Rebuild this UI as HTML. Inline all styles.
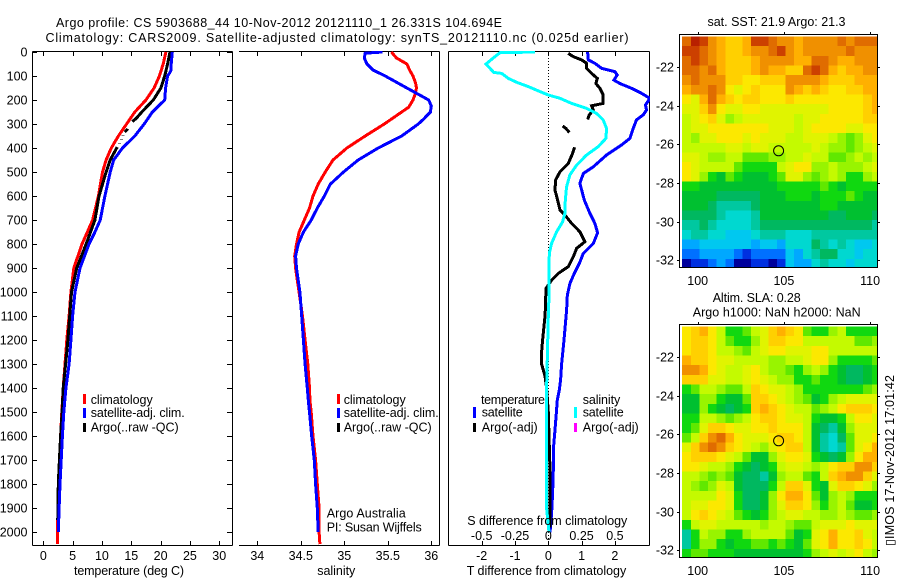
<!DOCTYPE html>
<html lang="en">
<head>
<meta charset="utf-8">
<title>Argo profile comparison</title>
<style>
html,body{margin:0;padding:0;background:#fff;}
svg{display:block;font-family:"Liberation Sans",Arial,sans-serif;font-size:12.5px;fill:#000;}
text{fill:#000;}
</style>
</head>
<body>
<svg id="figure" width="900" height="580" viewBox="0 0 900 580" xmlns="http://www.w3.org/2000/svg">
<defs>
<clipPath id="clip-p1"><rect x="32" y="51" width="201" height="495"/></clipPath>
<clipPath id="clip-p2"><rect x="239" y="51" width="201" height="495"/></clipPath>
<clipPath id="clip-p3"><rect x="448" y="51" width="202" height="495"/></clipPath>
<clipPath id="clip-m1"><rect x="682" y="36" width="195" height="231"/></clipPath>
<clipPath id="clip-m2"><rect x="682" y="326" width="195" height="231"/></clipPath>
</defs>

<text x="56" y="27" textLength="446">Argo profile: CS 5903688_44 10-Nov-2012 20121110_1 26.331S 104.694E</text>
<text x="45.5" y="42" textLength="583">Climatology: CARS2009. Satellite-adjusted climatology: synTS_20121110.nc (0.025d earlier)</text>

<g id="panel-temperature"></g>
<g id="panel-salinity"></g>
<g id="panel-difference"></g>
<g id="map-sst"></g>
<g id="map-sla"></g>

<text x="74" y="575" textLength="110">temperature (deg C)</text>
<text x="317.3" y="575" textLength="38">salinity</text>
<text x="466.7" y="575" textLength="159.5">T difference from climatology</text>
<text x="467.3" y="525" textLength="160">S difference from climatology</text>

<g>
<rect x="83" y="394" width="3" height="10" fill="#ff0000"/>
<text x="90.7" y="404" textLength="62">climatology</text>
<rect x="83" y="408" width="3" height="10" fill="#0000ff"/>
<text x="90.7" y="417" textLength="94">satellite-adj. clim.</text>
<rect x="83" y="423" width="3" height="9" fill="#000"/>
<text x="90.7" y="431.5" textLength="88">Argo(..raw -QC)</text>
</g>
<g>
<rect x="337" y="394" width="3" height="10" fill="#ff0000"/>
<text x="343.7" y="404" textLength="62">climatology</text>
<rect x="337" y="408" width="3" height="10" fill="#0000ff"/>
<text x="343.7" y="417" textLength="95">satellite-adj. clim.</text>
<rect x="337" y="423" width="3" height="9" fill="#000"/>
<text x="343.7" y="431.5" textLength="88">Argo(..raw -QC)</text>
</g>
<text x="326.7" y="517.7" textLength="79">Argo Australia</text>
<text x="326.7" y="531.7" textLength="95">PI: Susan Wijffels</text>

<g>
<text x="481" y="404" textLength="64">temperature</text>
<rect x="473" y="407" width="3" height="11" fill="#0000ff"/>
<text x="481.7" y="416.7" textLength="41">satellite</text>
<rect x="473" y="423" width="3" height="9" fill="#000"/>
<text x="481.7" y="431.5" textLength="56">Argo(-adj)</text>
<text x="582.7" y="404" textLength="37.5">salinity</text>
<rect x="574" y="407" width="3" height="11" fill="#00ffff"/>
<text x="582.7" y="416.7" textLength="41">satellite</text>
<rect x="574" y="423" width="3" height="9" fill="#ff00ff"/>
<text x="582.7" y="431.5" textLength="56">Argo(-adj)</text>
</g>

<text x="707.5" y="26" textLength="138">sat. SST: 21.9 Argo: 21.3</text>
<text x="712.7" y="302" textLength="88">Altim. SLA: 0.28</text>
<text x="692.7" y="316.5" textLength="168">Argo h1000: NaN h2000: NaN</text>
<text transform="translate(894,546) rotate(-90)" x="0" y="0" textLength="171">&#9647;IMOS 17-Nov-2012 17:01:42</text>

<script>
// ---------- profile data ----------
const yTickValues = [0,100,200,300,400,500,600,700,800,900,1000,1100,1200,1300,1400,1500,1600,1700,1800,1900,2000];
const tempTickValues = [0,5,10,15,20,25,30];
const salTickValues = [34,34.5,35,35.5,36];
const salTickLabels = ['34','34.5','35','35.5','36'];
const diffTickValues = [-2,-1,0,1,2];
const sDiffTickLabels = ['-0.5','-0.25','0','0.25','0.5'];

const tempDepths = [0,50,100,150,200,250,300,350,400,450,500,600,700,800,900,1000,1100,1200,1300,1400,1500,1600,1700,1800,1900,2000,2050];
const tempClim = [20.9,20.45,19.8,18.9,17.5,15.6,14.2,12.8,11.6,10.7,10.1,9.4,8.4,6.6,5.2,4.7,4.4,4.0,3.7,3.4,3.15,2.95,2.8,2.6,2.5,2.4,2.4];
const tempSatDepths = [0,50,75,85,100,150,200,250,300,350,400,450,500,600,700,750,800,900,1000,1100,1200,1300,1400,1500,1600,1700,1800,1900,2000];
const tempSat = [22,21.8,21.8,21.6,21.2,20.85,20.7,18.6,17.2,15.6,13.5,12.0,11.4,10.5,9.7,8.8,7.8,6.25,5.4,5.0,4.7,4.4,3.85,3.5,3.25,3.05,2.85,2.7,2.55];
const tempArgoDepths = [0,50,100,150,200,250,275,290,null,320,333,null,347,349,null,365,367,null,382,384,null,396,450,500,600,700,800,900,1000,1100,1200,1300,1400,1500,1600,1700,1800,1900,1950];
const tempArgo = [21.6,21.2,20.7,20.05,18.75,16.8,15.9,15.2,null,14.4,13.9,null,13.6,13.6,null,13.3,13.3,null,13.0,13.0,null,12.6,11.4,10.7,9.5,8.8,7.3,5.7,4.8,4.5,4.2,3.8,3.4,3.2,2.95,2.75,2.55,2.5,2.45];

const salClimDepths = [0,25,50,75,100,130,150,180,200,230,250,300,350,400,450,500,550,600,650,700,750,800,850,900,950,1000,1100,1200,1300,1400,1450,1500,1600,1700,1800,1900,2000,2050];
const salClim = [35.54,35.6,35.72,35.75,35.79,35.82,35.83,35.81,35.79,35.74,35.66,35.46,35.24,35.03,34.87,34.78,34.7,34.64,34.6,34.54,34.48,34.45,34.43,34.44,34.46,34.48,34.52,34.55,34.58,34.6,34.605,34.62,34.64,34.67,34.69,34.71,34.71,34.72];
const salSatDepths = [0,5,25,50,75,100,130,150,180,200,225,250,280,300,350,400,450,500,550,600,650,700,750,800,850,900,1000,1100,1200,1300,1400,1450,1500,1600,1700,1800,1900,2000];
const salSat = [35.44,35.24,35.23,35.26,35.33,35.47,35.62,35.72,35.87,35.97,36.0,35.99,35.91,35.85,35.66,35.39,35.16,34.99,34.84,34.77,34.69,34.62,34.53,34.47,34.44,34.45,34.49,34.51,34.53,34.55,34.575,34.586,34.6,34.625,34.655,34.67,34.69,34.7];

const tDiffSatDepths = [0,33,47,68,82,96,117,131,151,172,193,221,242,262,283,318,360,387,429,478,506,547,617,672,714,753,797,839,881,922,964,1014,1075,1200,1300,1366,1408,1450,1505,1574,1657,1740,1837,1920,1975,2000];
const tDiffSat = [1.18,1.2,1.4,1.6,2.0,2.07,1.97,2.15,2.5,2.8,3.05,2.92,2.95,2.85,2.65,2.55,2.45,2.2,1.75,1.35,1.05,0.95,1.08,1.25,1.4,1.48,1.35,1.05,0.93,0.78,0.65,0.57,0.55,0.47,0.4,0.37,0.33,0.27,0.24,0.2,0.15,0.15,0.13,0.1,0.07,0.05];
const tDiffArgoDepths = [6,19,33,47,68,89,110,131,151,179,214,224,242,262,281,null,308,318,335,null,397,422,464,499,533,575,617,658,679,714,749,790,818,853,894,922,950,985,1075,1100,1200,1250,1300,1350,1400,1500,1600,1740,1900,1980];
const tDiffArgo = [0.6,0.75,1.0,1.15,1.15,1.3,1.47,1.43,1.55,1.65,1.65,1.3,1.35,1.23,1.18,null,0.43,0.53,0.63,null,0.79,0.73,0.6,0.35,0.22,0.2,0.28,0.35,0.5,0.7,0.95,1.1,0.85,0.75,0.6,0.3,0.1,-0.07,-0.09,-0.1,-0.17,-0.2,-0.2,-0.1,-0.05,0,0.02,0.05,0.05,0.05];
const sDiffSatDepths = [0,3,19,50,68,85,89,110,126,144,165,179,193,214,235,256,283,318,360,394,429,471,512,561,617,672,707,749,797,839,922,1014,1100,1400,1900,1970,2000];
const sDiffSat = [-0.1,-0.3625,-0.4,-0.4675,-0.4375,-0.41,-0.35,-0.3,-0.2375,-0.15,-0.0625,0,0.0875,0.175,0.2875,0.3625,0.4125,0.4375,0.4325,0.375,0.2875,0.2125,0.1625,0.1375,0.1275,0.125,0.1075,0.0625,0.025,0.0075,0.005,0.005,0,-0.0125,-0.0125,0,0.005];

// ---------- map data (colour level per 0.5 degree cell, north to south) ----------
const mapLonTicks = [100,105,110];
const mapLatTicks = [22,24,26,28,30,32];
const argoLon = [104.694];
const argoLat = [26.331];
const sstLevels = [
[18,20,19,17,16,15,15,16,19,19,18,17,17,16,17,17,17,17,18,17,18,18,18],
[19,19,18,17,16,15,15,16,17,17,18,19,17,16,17,17,17,17,17,18,17,17,17],
[18,19,18,17,16,15,15,15,16,17,17,17,17,16,16,18,18,17,16,16,17,17,17],
[18,18,17,18,16,15,15,15,16,17,16,16,15,15,18,19,18,16,15,16,16,17,17],
[17,18,17,17,17,15,15,14,14,15,15,15,17,17,17,17,16,15,15,15,16,16,16],
[16,17,17,18,17,14,13,14,15,14,14,14,17,16,15,16,15,14,14,15,15,16,16],
[14,13,16,18,16,15,14,15,15,14,14,14,15,14,14,14,14,14,14,14,14,15,16],
[13,13,15,17,14,13,13,14,14,13,13,13,13,13,13,13,13,14,14,14,14,15,16],
[12,13,14,15,13,11,12,13,13,13,13,13,13,12,13,13,14,14,14,14,14,15,15],
[12,13,13,14,14,14,14,14,14,14,13,13,13,12,13,14,14,14,14,13,13,14,14],
[12,11,13,13,14,14,14,13,14,13,13,13,12,12,13,13,13,12,11,10,11,13,14],
[12,12,12,12,12,13,13,12,13,13,12,12,12,12,12,13,12,11,11,10,11,12,13],
[13,13,12,11,11,12,12,10,10,10,11,11,12,12,13,12,12,10,10,11,12,11,12],
[14,13,12,12,12,12,10,9,9,9,9,12,13,14,14,11,11,12,11,11,11,12,13],
[14,13,11,9,8,10,9,8,8,8,9,10,13,13,11,10,11,12,11,9,9,11,12],
[9,9,8,8,8,8,8,8,8,8,8,9,9,9,9,9,10,9,8,9,9,9,9],
[8,8,8,8,7,7,7,7,7,8,8,8,9,9,9,8,9,9,9,10,9,8,8],
[8,8,8,7,6,6,6,6,7,8,8,8,8,8,8,8,9,9,8,8,8,8,8],
[7,7,7,7,6,5,5,5,6,8,8,8,8,8,8,8,8,7,7,8,8,8,7],
[6,6,7,6,5,5,5,5,6,7,7,7,7,7,7,7,7,7,7,7,7,7,6],
[5,6,6,5,5,4,4,4,5,6,6,6,5,5,5,6,6,6,6,6,6,6,6],
[3,3,4,4,4,4,4,4,3,4,4,3,5,5,5,7,6,5,6,5,4,4,5],
[2,2,3,3,3,3,2,1,2,2,2,2,4,3,5,6,7,7,5,5,4,5,5],
[0,1,1,2,3,2,0,0,1,1,0,1,4,3,3,5,6,5,5,4,5,5,5]
];
const slaLevels = [
[14,15,16,14,12,9,9,10,12,13,15,16,15,14,10,9,9,11,12,9,9,9,9],
[14,15,15,14,12,10,9,9,11,13,15,15,14,14,12,12,12,12,12,12,10,10,11],
[14,15,15,14,12,12,11,10,12,13,14,14,13,13,13,14,14,12,12,12,12,12,12],
[16,15,15,14,13,13,12,12,12,12,11,11,12,12,13,14,14,11,9,9,9,9,10],
[17,17,16,14,13,12,12,13,14,12,11,11,10,9,11,12,11,9,8,7,7,8,9],
[15,15,15,13,13,12,12,13,14,13,12,11,11,9,9,10,9,9,8,7,7,8,9],
[9,10,12,12,11,10,10,12,15,14,13,13,12,11,9,9,9,9,9,9,9,10,11],
[8,8,11,11,9,8,8,10,15,15,14,13,12,11,10,8,9,11,12,13,13,13,13],
[8,8,11,9,8,7,8,9,15,16,15,14,13,12,12,10,11,12,14,15,15,15,14],
[9,9,12,12,11,10,11,12,14,15,15,14,13,13,12,9,8,8,9,12,14,14,13],
[9,10,13,15,15,14,13,13,14,14,15,14,14,14,12,8,7,6,8,11,13,13,13],
[10,12,15,17,18,16,14,13,13,13,14,15,15,14,12,8,6,5,7,10,13,13,14],
[13,15,17,18,17,15,14,13,12,11,13,14,15,15,12,8,6,5,6,10,13,14,16],
[14,15,15,15,14,13,12,10,8,8,11,13,14,14,13,9,8,7,8,11,14,16,16],
[14,14,13,12,12,11,9,8,7,8,9,12,13,13,12,11,12,14,15,15,17,17,15],
[12,12,11,10,11,10,8,7,7,6,8,11,12,12,10,9,12,15,16,17,17,15,13],
[12,11,10,11,13,12,8,7,7,7,9,12,15,15,13,9,8,13,15,15,14,13,11],
[12,12,12,12,14,13,9,7,7,8,11,14,16,16,14,10,8,11,12,11,9,9,9],
[12,13,13,14,14,13,9,7,7,8,11,13,15,15,14,11,9,11,12,10,8,8,9],
[12,14,15,14,13,12,10,9,8,9,11,12,13,13,12,12,11,11,12,11,10,10,11],
[9,12,13,13,12,12,12,12,12,11,12,12,11,10,10,12,13,13,13,14,13,13,13],
[6,9,12,11,11,9,9,11,12,12,12,12,10,8,9,13,14,16,14,14,15,13,12],
[6,9,11,11,9,8,9,9,10,10,9,10,9,8,10,13,14,16,14,14,15,14,12],
[9,10,10,9,9,9,8,8,8,8,8,8,8,8,9,11,12,13,12,13,14,12,11]
];

// ---------- scales ----------
const SVGNS = 'http://www.w3.org/2000/svg';
const colourRamp = ['#00009c','#0030e0','#0070ff','#00a8ff','#00c8f0','#00d8d0','#00c8a0','#00b860','#00c030','#10d810','#60e800','#98f400','#c4fa00','#e0f400','#fce800','#ffd000','#ffb000','#f09000','#e06c00','#cc4000','#b82000'];
function depthY(d){ return 52 + d * 0.2401; }
function tempX(t){ return 43.3 + t * 5.865; }
function salX(s){ return 257.3 + (s - 34) * 87; }
function tDiffX(t){ return 548.3 + t * 33.3; }
function sDiffX(s){ return 548.3 + s * 133.2; }
function lonX(lon){ return 697.7 + (lon - 100) * 17.24; }
function latY(lat, top){ return top + 33 + (lat - 22) * 19.34; }

function make(tag, parent){
  const el = document.createElementNS(SVGNS, tag);
  parent.appendChild(el);
  return el;
}
function drawLine(parent, x1, y1, x2, y2, name){
  const el = make('line', parent);
  el.setAttribute('x1', x1);
  el.setAttribute('y1', y1);
  el.setAttribute('x2', x2);
  el.setAttribute('y2', y2);
  el.setAttribute('stroke', '#000');
  el.setAttribute('shape-rendering', 'crispEdges');
  
  
  return el;
}
function drawText(parent, str, x, y, anchor, name){
  const el = make('text', parent);
  el.textContent = str;
  el.setAttribute('x', x);
  el.setAttribute('y', y);
  el.setAttribute('text-anchor', anchor);
  
  
  return el;
}
function drawProfile(parent, depths, values, xFn, colour, clip, name){
  let d = '';
  let pen = false;
  for (let i = 0; i < values.length; i++) {
    if (values[i] === null || depths[i] === null) { pen = false; continue; }
    d += (pen ? 'L' : 'M') + xFn(values[i]).toFixed(1) + ' ' + depthY(depths[i]).toFixed(1);
    pen = true;
  }
  const el = make('path', parent);
  el.setAttribute('d', d);
  el.setAttribute('fill', 'none');
  el.setAttribute('stroke', colour);
  el.setAttribute('stroke-width', '3');
  el.setAttribute('shape-rendering', 'crispEdges');
  el.setAttribute('clip-path', 'url(#' + clip + ')');
  
  
}
function drawXTicks(parent, values, xFn){
  values.forEach(function(v){
    const px = Math.round(xFn(v)) + 0.5;
    drawLine(parent, px, 52, px, 56, 'top-tick');
    drawLine(parent, px, 541, px, 545, 'bottom-tick');
  });
}

// ---------- temperature panel ----------
const p1 = document.getElementById('panel-temperature');
drawLine(p1, 32.5, 51.5, 232.5, 51.5, 'top-axis-line');
drawLine(p1, 32.5, 545.5, 232.5, 545.5, 'x-axis-line');
drawLine(p1, 32.5, 51.5, 32.5, 545.5, 'y-axis-line');
drawLine(p1, 232.5, 51.5, 232.5, 545.5, 'right-axis-line');
drawXTicks(p1, tempTickValues, tempX);
yTickValues.forEach(function(v){
  const py = Math.round(depthY(v)) + 0.5;
  drawLine(p1, 33, py, 37, py, 'y-tick');
  drawLine(p1, 227, py, 232, py, 'y-tick-right');
  drawText(p1, String(v), 27.5, py + 4, 'end', 'y-tick-label');
});
tempTickValues.forEach(function(v){
  drawText(p1, String(v), tempX(v), 560, 'middle', 'x-tick-label');
});
drawProfile(p1, tempDepths, tempClim, tempX, '#ff0000', 'clip-p1', 'temperature-climatology-line');
drawProfile(p1, tempArgoDepths, tempArgo, tempX, '#000000', 'clip-p1', 'temperature-argo-line');
drawProfile(p1, tempSatDepths, tempSat, tempX, '#0000ff', 'clip-p1', 'temperature-satellite-line');

// ---------- salinity panel ----------
const p2 = document.getElementById('panel-salinity');
drawLine(p2, 239, 51.5, 439.5, 51.5, 'top-axis-line');
drawLine(p2, 239, 545.5, 439.5, 545.5, 'x-axis-line');
drawLine(p2, 439.5, 51.5, 439.5, 545.5, 'right-axis-line');
drawXTicks(p2, salTickValues, salX);
salTickValues.forEach(function(v, i){
  drawText(p2, salTickLabels[i], salX(v), 560, 'middle', 'x-tick-label');
});
drawProfile(p2, salClimDepths, salClim, salX, '#ff0000', 'clip-p2', 'salinity-climatology-line');
drawProfile(p2, salSatDepths, salSat, salX, '#0000ff', 'clip-p2', 'salinity-satellite-line');

// ---------- difference panel ----------
const p3 = document.getElementById('panel-difference');
drawLine(p3, 448.5, 51.5, 649.5, 51.5, 'top-axis-line');
drawLine(p3, 448.5, 545.5, 649.5, 545.5, 'x-axis-line');
drawLine(p3, 448.5, 51.5, 448.5, 545.5, 'left-axis-line');
drawLine(p3, 649.5, 51.5, 649.5, 545.5, 'right-axis-line');
drawXTicks(p3, diffTickValues, tDiffX);
const zeroLine = drawLine(p3, tDiffX(0), 52, tDiffX(0), 545, 'zero-difference-line');
zeroLine.setAttribute('stroke-dasharray', '1 2');
drawProfile(p3, tDiffSatDepths, tDiffSat, tDiffX, '#0000ff', 'clip-p3', 't-difference-satellite-line');
drawProfile(p3, tDiffArgoDepths, tDiffArgo, tDiffX, '#000000', 'clip-p3', 't-difference-argo-line');
drawProfile(p3, sDiffSatDepths, sDiffSat, sDiffX, '#00ffff', 'clip-p3', 's-difference-satellite-line');
diffTickValues.forEach(function(v, i){
  drawText(p3, String(v), tDiffX(v), 560, 'middle', 'x-tick-label');
  drawText(p3, sDiffTickLabels[i], tDiffX(v), 540, 'middle', 's-tick-label');
});

// ---------- maps ----------
function drawMap(parent, levels, top, clip){
  const cells = make('g', parent);
  cells.setAttribute('clip-path', 'url(#' + clip + ')');
  cells.setAttribute('shape-rendering', 'crispEdges');
  
  
  levels.forEach(function(row, j){
    row.forEach(function(level, i){
      const x0 = lonX(99.1 + i * 0.5);
      const x1 = lonX(99.1 + (i + 1) * 0.5);
      const y0 = latY(20.42 + j * 0.5, top);
      const y1 = latY(20.42 + (j + 1) * 0.5, top);
      const cell = make('rect', cells);
      cell.setAttribute('x', x0.toFixed(1));
      cell.setAttribute('y', y0.toFixed(1));
      cell.setAttribute('width', (x1 - x0 + 0.5).toFixed(1));
      cell.setAttribute('height', (y1 - y0 + 0.5).toFixed(1));
      cell.setAttribute('fill', colourRamp[Math.max(0, Math.min(colourRamp.length - 1, level))]);
      
      
    });
  });
  const bottom = top + 233;
  const frame = make('rect', parent);
  frame.setAttribute('x', 679.5);
  frame.setAttribute('y', top + 0.5);
  frame.setAttribute('width', 198);
  frame.setAttribute('height', 233);
  frame.setAttribute('fill', 'none');
  frame.setAttribute('stroke', '#000');
  frame.setAttribute('shape-rendering', 'crispEdges');
  
  
  mapLonTicks.forEach(function(lon){
    const px = Math.round(lonX(lon)) + 0.5;
    drawLine(parent, px, top - 2, px, top, 'map-top-tick');
    drawText(parent, String(lon), lonX(lon), bottom + 18, 'middle', 'map-lon-label');
  });
  mapLatTicks.forEach(function(lat){
    const py = Math.round(latY(lat, top)) + 0.5;
    drawLine(parent, 677, py, 679, py, 'map-left-tick');
    drawLine(parent, 878, py, 880, py, 'map-right-tick');
    drawText(parent, '-' + lat, 674, py + 4, 'end', 'map-lat-label');
  });
  const marker = make('circle', parent);
  marker.setAttribute('cx', lonX(argoLon[0]).toFixed(1));
  marker.setAttribute('cy', latY(argoLat[0], top).toFixed(1));
  marker.setAttribute('r', 5);
  marker.setAttribute('fill', 'none');
  marker.setAttribute('stroke', '#000');
  
  
}
drawMap(document.getElementById('map-sst'), sstLevels, 34, 'clip-m1');
drawMap(document.getElementById('map-sla'), slaLevels, 324, 'clip-m2');
</script>
</svg>
</body>
</html>
